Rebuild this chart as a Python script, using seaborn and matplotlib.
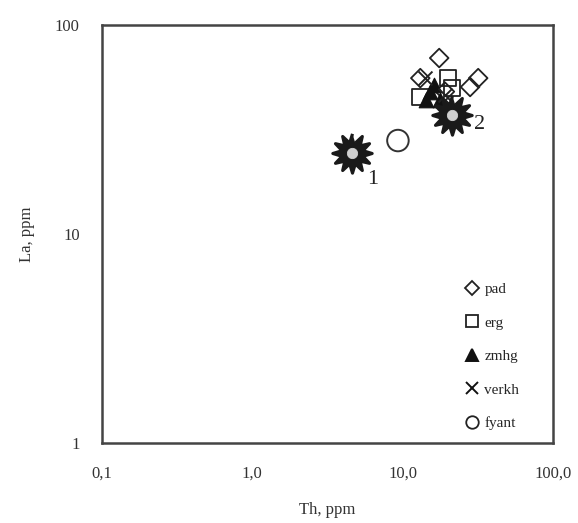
import numpy as np
import pandas as pd
import seaborn as sns
import matplotlib.pyplot as plt
from matplotlib.lines import Line2D

# values (Th, La in ppm)
pad_th = [17.5, 28.1, 31.8, 13.1, 19.1]
pad_la = [69.5, 50.5, 55.7, 55.7, 48.0]
erg_th = [20.0, 13.1, 21.3]
erg_la = [55.7, 45.2, 49.9]
zmhg_th = [15.2, 16.2, 17.7, 14.3]
zmhg_la = [47.7, 51.5, 43.7, 44.0]
verkh_th = [14.1, 19.1]
verkh_la = [55.7, 46.2]
fyant_th = [9.3]
fyant_la = [28.0]
ref_th = [4.6, 21.3]
ref_la = [24.3, 37.0]
ref_labels = ['1', '2']

groups = ['pad', 'erg', 'zmhg', 'verkh', 'fyant']
xticks = [0.1, 1, 10, 100]
xtick_labels = ['0,1', '1,0', '10,0', '100,0']
yticks = [1, 10, 100]
ytick_labels = ['1', '10', '100']

frames = []
for g, th, la in zip(groups, [pad_th, erg_th, zmhg_th, verkh_th, fyant_th],
                     [pad_la, erg_la, zmhg_la, verkh_la, fyant_la]):
    frames.append(pd.DataFrame({'Th': th, 'La': la, 'group': g}))
df = pd.concat(frames, ignore_index=True)

sns.set_style('white')
plt.rcParams['font.family'] = ['Liberation Serif', 'DejaVu Serif']

fig = plt.figure(figsize=(5.78, 5.23), dpi=100)
ax = fig.add_axes([102 / 578, 1 - 443 / 523, 451 / 578, 418 / 523])

# 12-ray star with long thin rays
n = 12
ang = np.linspace(0, 2 * np.pi, 2 * n, endpoint=False) + np.pi / 2
rad = np.where(np.arange(2 * n) % 2 == 0, 1.0, 0.55)
star = np.column_stack([rad * np.cos(ang), rad * np.sin(ang)])

style = {
    'pad': dict(marker='D', s=90, facecolor='none', edgecolor='#222222', linewidth=1.3),
    'erg': dict(marker='s', s=140, facecolor='none', edgecolor='#222222', linewidth=1.3),
    'zmhg': dict(marker='^', s=110, color='#111111', edgecolor='#111111'),
    'verkh': dict(marker='x', s=100, color='#222222', linewidth=1.4),
    'fyant': dict(marker='o', s=240, facecolor='none', edgecolor='#333333', linewidth=1.4),
}

for g in groups:
    sub = df[df['group'] == g]
    sns.scatterplot(data=sub, x='Th', y='La', ax=ax, legend=False, zorder=3, **style[g])

ref = pd.DataFrame({'Th': ref_th, 'La': ref_la})
sns.scatterplot(data=ref, x='Th', y='La', ax=ax, marker=star, s=800,
                color='#1a1a1a', edgecolor='#1a1a1a', legend=False, zorder=4)
sns.scatterplot(data=ref, x='Th', y='La', ax=ax, marker='o', s=55,
                color='#d0d0d0', edgecolor='#d0d0d0', legend=False, zorder=5)
label_offsets = [(11, -22), (16, -10)]
for th, la, lab, off in zip(ref_th, ref_la, ref_labels, label_offsets):
    ax.annotate(lab, (th, la), xytext=off, textcoords='offset points',
                fontsize=16, color='#222222')

ax.set_xscale('log')
ax.set_yscale('log')
ax.set_xlim(0.1, 100)
ax.set_ylim(1, 100)
ax.set_xticks(xticks)
ax.set_xticklabels(xtick_labels)
ax.set_yticks(yticks)
ax.set_yticklabels(ytick_labels)
ax.minorticks_off()
ax.tick_params(direction='in', length=3, width=1, labelsize=12, colors='#333333')
ax.tick_params(axis='x', pad=16)
ax.tick_params(axis='y', pad=16)
ax.set_xlabel('Th, ppm', fontsize=12, color='#333333', labelpad=15)
ax.set_ylabel('La, ppm', fontsize=12, color='#333333', labelpad=14)
for sp in ax.spines.values():
    sp.set_linewidth(1.8)
    sp.set_color('#444444')

handles = []
for g in groups:
    st = style[g]
    if g in ('zmhg', 'verkh'):
        h = Line2D([], [], linestyle='none', marker=st['marker'], color='#111111',
                   markersize=9, markeredgewidth=1.4)
    else:
        h = Line2D([], [], linestyle='none', marker=st['marker'], markerfacecolor='none',
                   markeredgecolor='#222222', markersize=9 if g != 'pad' else 7,
                   markeredgewidth=1.3)
    handles.append(h)
ax.legend(handles, groups, loc='lower left', bbox_to_anchor=(0.807, 0.03), frameon=False,
          fontsize=11, labelspacing=1.3, handlelength=0.8, handletextpad=0.4,
          borderpad=0, borderaxespad=0)

fig.savefig('out.png', dpi=100)
